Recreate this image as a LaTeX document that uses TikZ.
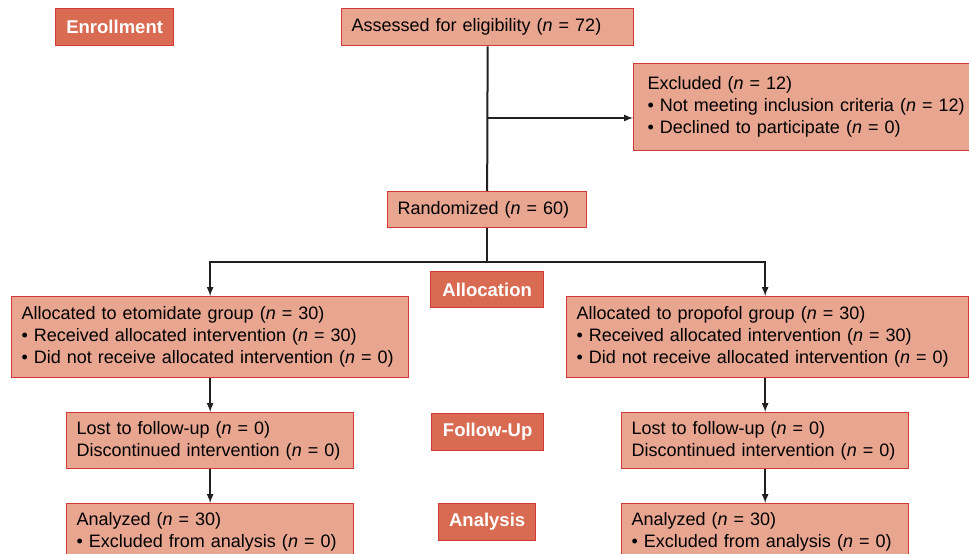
\documentclass[tikz,border=0pt]{standalone}
\usepackage{fontspec}
\setmainfont{Liberation Sans}
\usetikzlibrary{arrows,shapes,positioning}
\definecolor{boxfill}{HTML}{E8A590}
\definecolor{tagfill}{HTML}{D96B53}
\definecolor{boxline}{HTML}{D23A3A}
\definecolor{wire}{HTML}{231F20}
\newcommand{\ncount}{\textit{n}}
\tikzset{
  basic/.style = {draw=boxline, line width=1.3pt, rectangle, anchor=north west, inner ysep=0pt, font=\fontsize{18}{22}\selectfont},
  stage/.style = {basic, fill=tagfill, text=white, align=center, font=\fontsize{18.5}{22}\selectfont\bfseries},
  info/.style  = {basic, fill=boxfill, align=left, inner xsep=10pt}
}

\begin{document}
\begin{tikzpicture}[x=1pt, y=-1pt, >=latex, link/.style={draw=wire, line width=2pt}]
\useasboundingbox (0,0) rectangle (969,554);

% stage labels
\node[stage, minimum width=118, minimum height=37] (enroll) at (55,8) {Enrollment};
\node[stage, minimum width=113, minimum height=36] (alloc) at (430,271) {Allocation};
\node[stage, minimum width=112, minimum height=37] (follow) at (431,413) {Follow-Up};
\node[stage, minimum width=97, minimum height=37] (analysis) at (438,503) {Analysis};

% enrollment
\node[info, text width=272, minimum height=37] (assess) at (341,8) {Assessed for eligibility (\ncount{} = 72)};
\node[info, inner xsep=14pt, text width=330, minimum height=87] (excl) at (633,63) {Excluded (\ncount{} = 12)\\
\textbullet{} Not meeting inclusion criteria (\ncount{} = 12)\\
\textbullet{} Declined to participate (\ncount{} = 0)};
\node[info, text width=179, minimum height=36] (random) at (387,191) {Randomized (\ncount{} = 60)};

% the two groups
\node[info, text width=377, minimum height=81] (etoalloc) at (11,296) {Allocated to etomidate group (\ncount{} = 30)\\
\textbullet{} Received allocated intervention (\ncount{} = 30)\\
\textbullet{} Did not receive allocated intervention (\ncount{} = 0)};
\node[info, text width=382, minimum height=81] (proalloc) at (566,296) {Allocated to propofol group (\ncount{} = 30)\\
\textbullet{} Received allocated intervention (\ncount{} = 30)\\
\textbullet{} Did not receive allocated intervention (\ncount{} = 0)};

\node[info, text width=267, minimum height=56] (etolost) at (66,412) {Lost to follow-up (\ncount{} = 0)\\
Discontinued intervention (\ncount{} = 0)};
\node[info, text width=267, minimum height=56] (prolost) at (621,412) {Lost to follow-up (\ncount{} = 0)\\
Discontinued intervention (\ncount{} = 0)};

\node[info, text width=267, minimum height=57] (etoana) at (66,503) {Analyzed (\ncount{} = 30)\\
\textbullet{} Excluded from analysis (\ncount{} = 0)};
\node[info, text width=267, minimum height=57] (proana) at (621,503) {Analyzed (\ncount{} = 30)\\
\textbullet{} Excluded from analysis (\ncount{} = 0)};

% connectors
\coordinate (split) at (assess.south |- 0,118);
\draw[link] (assess.south) -- (random.north);
\draw[link, ->] (split) -- (split -| excl.west);
\draw[link] (random.south) -- ++(0,34) coordinate (fork);
\draw[link, ->] (fork) -| (etoalloc.north);
\draw[link, ->] (fork) -| (prolost.north |- proalloc.north);
\draw[link, ->] (etoalloc.south -| etolost.north) -- (etolost.north);
\draw[link, ->] (proalloc.south -| prolost.north) -- (prolost.north);
\draw[link, ->] (etolost.south) -- (etoana.north);
\draw[link, ->] (prolost.south) -- (proana.north);
\end{tikzpicture}
\end{document}
